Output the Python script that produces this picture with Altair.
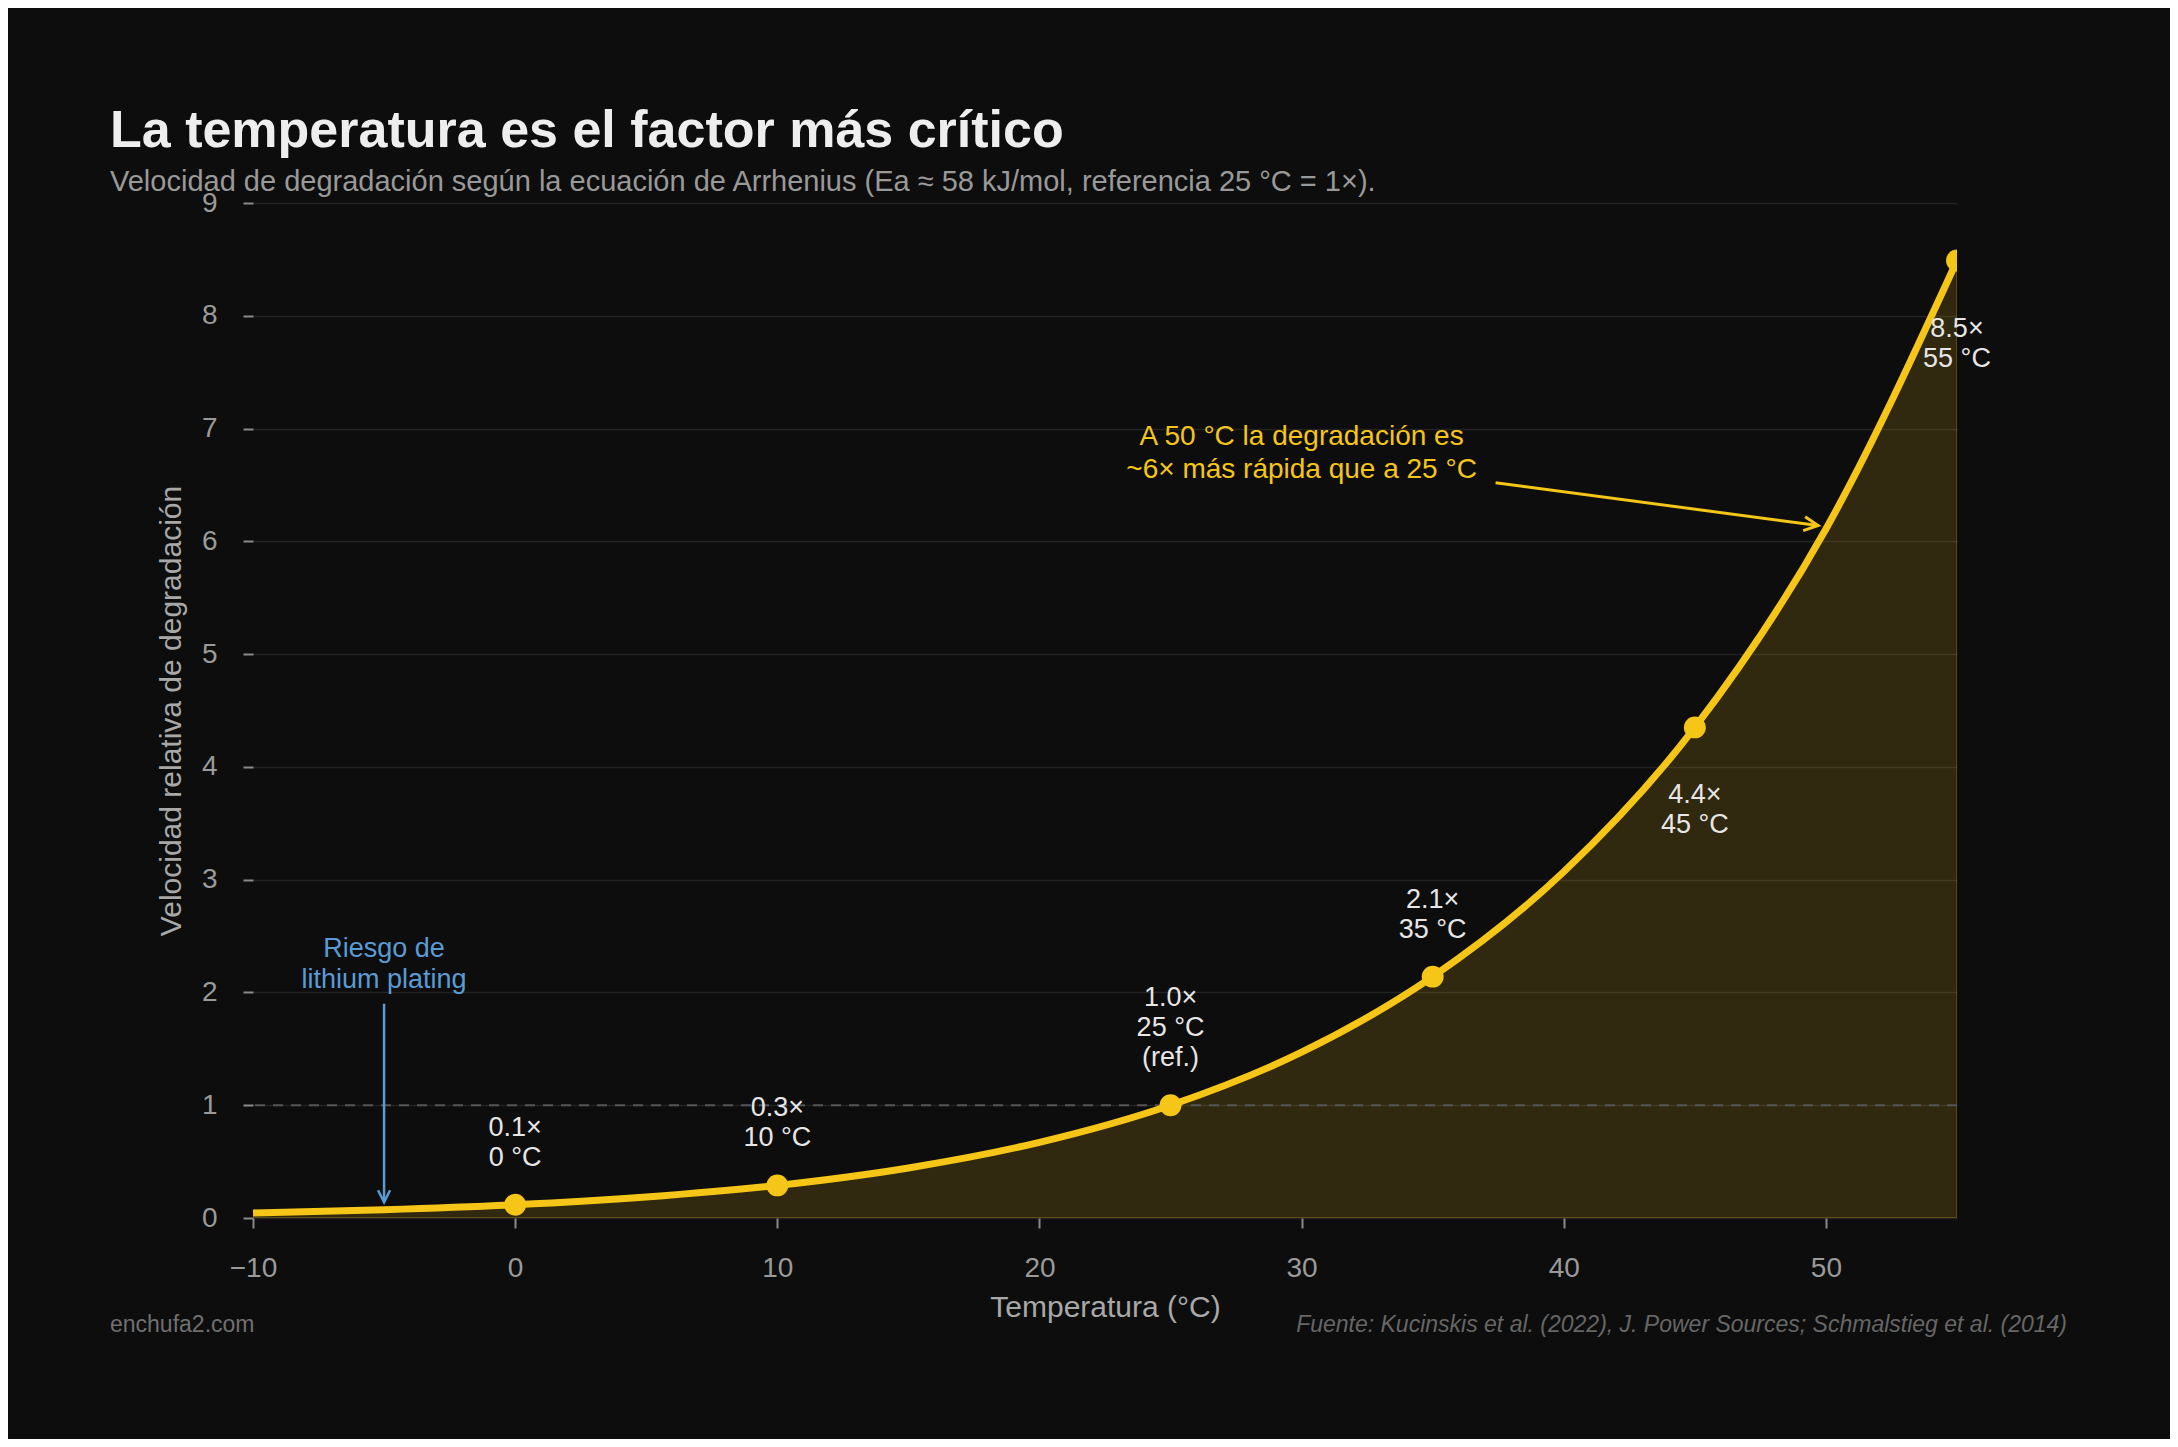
import altair as alt
import pandas as pd

# ---------------- data ----------------
temps = [-10, -5, 0, 5, 10, 15, 20, 25, 30, 35, 40, 45, 50, 55]
rates = [0.045, 0.073, 0.117, 0.186, 0.289, 0.444, 0.671, 1.0, 1.47, 2.14, 3.07, 4.35, 6.11, 8.49]

marker_temps = [0, 10, 25, 35, 45, 55]
marker_rates = [0.117, 0.289, 1.0, 2.14, 4.35, 8.49]
marker_labels = ["0.1×\n0 °C", "0.3×\n10 °C", "1.0×\n25 °C\n(ref.)", "2.1×\n35 °C", "4.4×\n45 °C", "8.5×\n55 °C"]
marker_pos = ["above", "above", "above", "above", "below", "below"]

x_ticks = [-10, 0, 10, 20, 30, 40, 50]
y_ticks = [0, 1, 2, 3, 4, 5, 6, 7, 8, 9]
ref_level = [1]

# annotations (data coordinates)
risk_text = ["Riesgo de\nlithium plating"]
risk_x = [-5]
risk_y_text = [2.385]
risk_arrow_y = [1.90]
risk_arrow_y2 = [0.14]

hot_text = ["A 50 °C la degradación es\n~6× más rápida que a 25 °C"]
hot_text_x = [30.0]
hot_text_y = [6.925]
hot_arrow_x = [37.4]
hot_arrow_y = [6.52]
hot_arrow_x2 = [49.7]
hot_arrow_y2 = [6.14]

title_text = "La temperatura es el factor más crítico"
subtitle_text = "Velocidad de degradación según la ecuación de Arrhenius (Ea ≈ 58 kJ/mol, referencia 25 °C = 1×)."
footer_left = ["enchufa2.com"]
footer_right = ["Fuente: Kucinskis et al. (2022), J. Power Sources; Schmalstieg et al. (2014)"]

# ---------------- styling ----------------
FONT = "Liberation Sans"
YEL = "#f5c518"
BLUE = "#5b9bd5"
BG = "#0d0d0d"
W, H = 1704, 1015

curve_df = pd.DataFrame({"temp": temps, "rate": rates})
marker_df = pd.DataFrame({"temp": marker_temps, "rate": marker_rates,
                          "label": marker_labels, "pos": marker_pos})
marker_df["nlines"] = marker_df["label"].str.count("\n") + 1

x_scale = alt.Scale(domain=[-10, 55], nice=False, zero=False)
y_scale = alt.Scale(domain=[0, 9], nice=False)

x_enc = alt.X("temp:Q", scale=x_scale,
              axis=alt.Axis(values=x_ticks, title="Temperatura (°C)", grid=False,
                            domain=False, tickSize=10, tickColor="#8a8a8a", tickWidth=2,
                            labelPadding=26, titlePadding=10, labelFlush=False))
y_enc = alt.Y("rate:Q", scale=y_scale,
              axis=alt.Axis(values=y_ticks, title="Velocidad relativa de degradación",
                            format="d", grid=True, gridColor="#232323", gridWidth=1.5,
                            domain=False, tickSize=10, tickColor="#8a8a8a", tickWidth=2,
                            labelPadding=26, titlePadding=15))

area = alt.Chart(curve_df).mark_area(
    color=YEL, fillOpacity=0.15, stroke=YEL, strokeOpacity=0.22, strokeWidth=2,
    interpolate="monotone", clip=True
).encode(x=x_enc, y=y_enc)

ref_rule = alt.Chart(pd.DataFrame({"v": ref_level})).mark_rule(
    color="#555555", strokeDash=[10, 8], strokeWidth=2
).encode(y=alt.Y("v:Q", scale=y_scale))

line = alt.Chart(curve_df).mark_line(
    color=YEL, strokeWidth=7, interpolate="monotone", clip=True
).encode(x=alt.X("temp:Q", scale=x_scale), y=alt.Y("rate:Q", scale=y_scale))

points = alt.Chart(marker_df).mark_circle(
    color=YEL, size=480, opacity=1, clip=True
).encode(x=alt.X("temp:Q", scale=x_scale), y=alt.Y("rate:Q", scale=y_scale))

enc_lab = dict(x=alt.X("temp:Q", scale=x_scale), y=alt.Y("rate:Q", scale=y_scale), text="label:N")
lab_style = dict(font=FONT, fontSize=27, lineHeight=30, color="#e6e6e6", align="center",
                 lineBreak="\n")

labels_above2 = alt.Chart(marker_df).transform_filter(
    (alt.datum.pos == "above") & (alt.datum.nlines == 2)
).mark_text(baseline="bottom", dy=-63, **lab_style).encode(**enc_lab)

labels_above3 = alt.Chart(marker_df).transform_filter(
    (alt.datum.pos == "above") & (alt.datum.nlines == 3)
).mark_text(baseline="bottom", dy=-93, **lab_style).encode(**enc_lab)

labels_below = alt.Chart(marker_df).transform_filter(
    alt.datum.pos == "below"
).mark_text(baseline="top", dy=55, **lab_style).encode(**enc_lab)

risk_df = pd.DataFrame({"x": risk_x, "ty": risk_y_text, "y": risk_arrow_y,
                        "y2": risk_arrow_y2, "t": risk_text})
risk_label = alt.Chart(risk_df).mark_text(
    font=FONT, fontSize=27, lineHeight=31, color=BLUE, align="center",
    baseline="middle", lineBreak="\n"
).encode(x=alt.X("x:Q", scale=x_scale), y=alt.Y("ty:Q", scale=y_scale), text="t:N")
risk_shaft = alt.Chart(risk_df).mark_rule(color=BLUE, strokeWidth=2.5).encode(
    x=alt.X("x:Q", scale=x_scale), y=alt.Y("y:Q", scale=y_scale), y2="y2:Q")
risk_head = alt.Chart(risk_df).mark_point(
    shape="M -1 -0.5 L 0 0 L -1 0.5", filled=False, color=BLUE, strokeWidth=2.5,
    size=576, angle=90, opacity=1
).encode(x=alt.X("x:Q", scale=x_scale), y=alt.Y("y2:Q", scale=y_scale))

hot_df = pd.DataFrame({"tx": hot_text_x, "ty": hot_text_y, "x": hot_arrow_x, "y": hot_arrow_y,
                       "x2": hot_arrow_x2, "y2": hot_arrow_y2, "t": hot_text})
hot_label = alt.Chart(hot_df).mark_text(
    font=FONT, fontSize=28, lineHeight=33, color=YEL, align="center",
    baseline="middle", lineBreak="\n"
).encode(x=alt.X("tx:Q", scale=x_scale), y=alt.Y("ty:Q", scale=y_scale), text="t:N")
hot_shaft = alt.Chart(hot_df).mark_rule(color=YEL, strokeWidth=3).encode(
    x=alt.X("x:Q", scale=x_scale), y=alt.Y("y:Q", scale=y_scale), x2="x2:Q", y2="y2:Q")
hot_head = alt.Chart(hot_df).mark_point(
    shape="M -1 -0.5 L 0 0 L -1 0.5", filled=False, color=YEL, strokeWidth=3,
    size=784, angle=7.9, opacity=1
).encode(x=alt.X("x2:Q", scale=x_scale), y=alt.Y("y2:Q", scale=y_scale))

foot_l = alt.Chart(pd.DataFrame({"t": footer_left})).mark_text(
    font=FONT, fontSize=23, color="#707070", align="left", baseline="middle"
).encode(x=alt.value(-143), y=alt.value(1122), text="t:N")
foot_r = alt.Chart(pd.DataFrame({"t": footer_right})).mark_text(
    font=FONT, fontSize=23, color="#666666", align="right", baseline="middle",
    fontStyle="italic"
).encode(x=alt.value(1814), y=alt.value(1122), text="t:N")

chart = alt.layer(
    area, ref_rule, line, points, labels_above2, labels_above3, labels_below,
    risk_shaft, risk_head, risk_label, hot_shaft, hot_head, hot_label,
    foot_l, foot_r
).properties(
    width=W, height=H,
    title=alt.Title(
        text=title_text, subtitle=subtitle_text, anchor="start", frame="group", dx=-143,
        font=FONT, fontSize=52, fontWeight="bold", color="#eeeeee",
        subtitleFont=FONT, subtitleFontSize=29, subtitleColor="#999999",
        subtitlePadding=10, offset=-9
    ),
    padding={"left": 245, "top": 195, "right": 213, "bottom": 221},
    autosize=alt.AutoSizeParams(type="none")
).configure(
    background=BG
).configure_view(
    stroke=None
).configure_axis(
    labelFont=FONT, labelFontSize=28, labelColor="#9a9a9a",
    titleFont=FONT, titleFontSize=30, titleColor="#a8a8a8", titleFontWeight="normal"
)

chart.save("out.html", embed_options={"renderer": "svg", "actions": False})
